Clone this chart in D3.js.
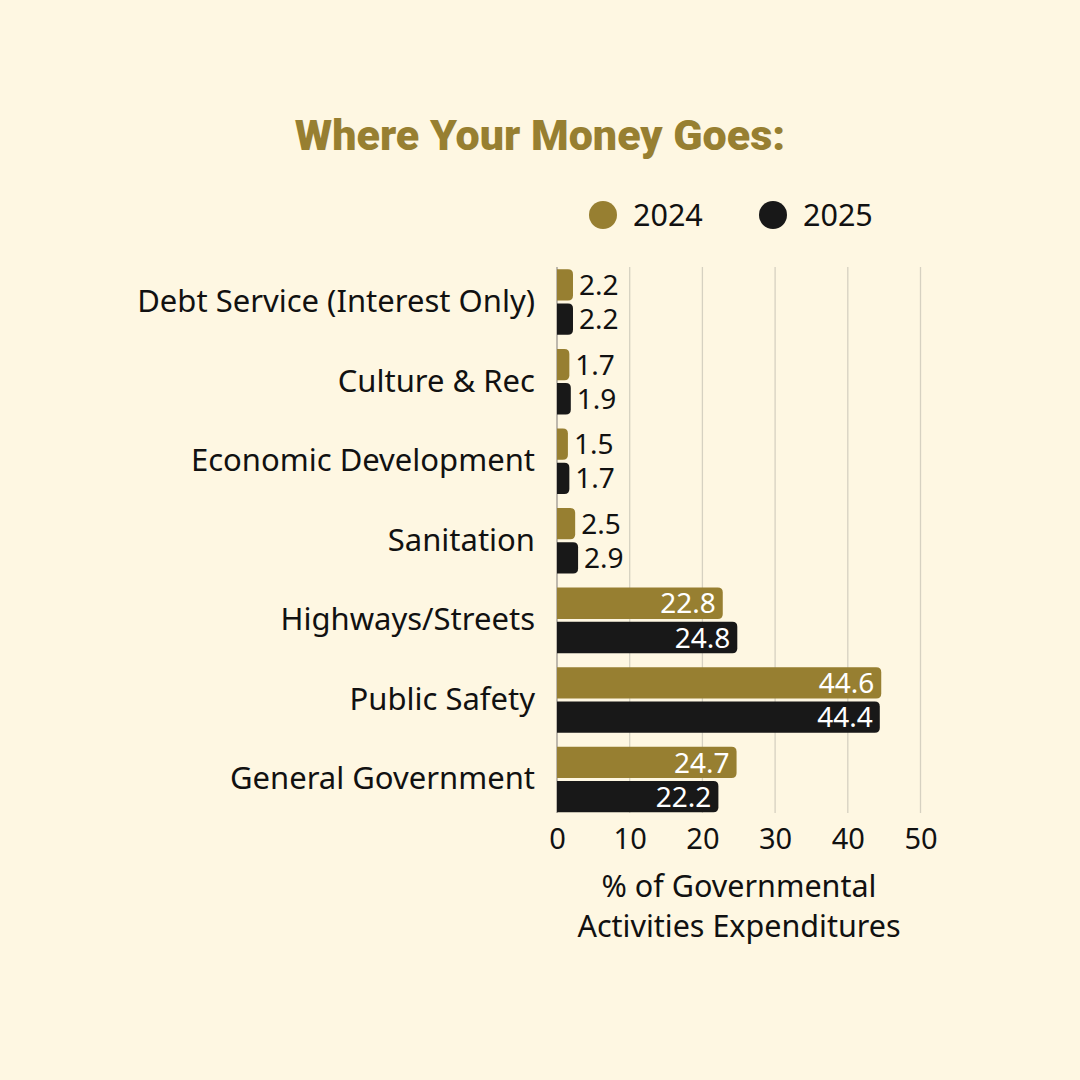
<!DOCTYPE html>
<html>
<head>
<meta charset="utf-8">
<script src="https://cdn.jsdelivr.net/npm/d3@7"></script>
<style>
  html, body { margin: 0; padding: 0; background: #fef7e2; }
  svg { display: block; }
</style>
</head>
<body>
<div id="chart"></div>
<script>
// data
const categories = [
  'Debt Service (Interest Only)',
  'Culture & Rec',
  'Economic Development',
  'Sanitation',
  'Highways/Streets',
  'Public Safety',
  'General Government'
]
const years = ['2024', '2025']
const values2024 = [2.2, 1.7, 1.5, 2.5, 22.8, 44.6, 24.7]
const values2025 = [2.2, 1.9, 1.7, 2.9, 24.8, 44.4, 22.2]
const xTicks = [0, 10, 20, 30, 40, 50]

const width = 1080
const height = 1080
const gold = '#977f31'
const dark = '#181818'
const ink = '#111111'
const font = "'Noto Sans', sans-serif"

const svg = d3.select('#chart')
  .append('svg')
  .attr('width', width)
  .attr('height', height)

svg.append('rect')
  .attr('width', width)
  .attr('height', height)
  .attr('fill', '#fef7e2')

// title
svg.append('text')
  .attr('x', 540)
  .attr('y', 150)
  .attr('text-anchor', 'middle')
  .attr('font-family', "Roboto, sans-serif")
  .attr('font-weight', 900)
  .attr('font-size', 43)
  .attr('fill', gold)
  .text('Where Your Money Goes:')

// legend
const legendColor = d3.scaleOrdinal().domain(years).range([gold, dark])
const legendX = d3.scalePoint().domain(years).range([603, 773])
const legend = svg.selectAll('g.legend')
  .data(years)
  .enter().append('g')
  .attr('class', 'legend')
  .attr('transform', d => `translate(${legendX(d)},215)`)
legend.append('circle')
  .attr('r', 14)
  .attr('fill', d => legendColor(d))
legend.append('text')
  .attr('x', 30)
  .attr('y', 11)
  .attr('font-family', font)
  .attr('font-size', 30.5)
  .attr('fill', ink)
  .text(d => d)

// scales
const x = d3.scaleLinear().domain([0, 50]).range([557, 920.5])
const y = d3.scaleBand().domain(categories).range([269.3, 812.3]).paddingInner(0.1765).paddingOuter(0)
const ySub = d3.scaleBand().domain(years).range([0, y.bandwidth()]).paddingInner(0.085)

// grid
svg.append('g')
  .selectAll('line')
  .data(xTicks)
  .enter().append('line')
  .attr('x1', d => x(d))
  .attr('x2', d => x(d))
  .attr('y1', 267)
  .attr('y2', 813)
  .attr('stroke', d => d === 0 ? '#9b9790' : '#d6d1c1')
  .attr('stroke-width', 1.3)

// x axis labels
const xAxis = d3.axisBottom(x).tickValues(xTicks).tickSize(0).tickPadding(0)
const axisG = svg.append('g')
  .attr('transform', 'translate(0,828)')
  .call(xAxis)
axisG.select('.domain').remove()
axisG.selectAll('text')
  .attr('font-family', font)
  .attr('font-size', 29)
  .attr('fill', ink)
  .attr('dy', '0.71em')

// axis title
svg.append('text')
  .attr('text-anchor', 'middle')
  .attr('font-family', font)
  .attr('font-size', 30.5)
  .attr('fill', ink)
  .selectAll('tspan')
  .data(['% of Governmental', 'Activities Expenditures'])
  .enter().append('tspan')
  .attr('x', 739)
  .attr('y', (d, i) => 897 + i * 40)
  .text(d => d)

// category labels
const yAxis = d3.axisLeft(y).tickSize(0).tickPadding(22)
const yG = svg.append('g')
  .attr('transform', `translate(${x(0)},0)`)
  .call(yAxis)
yG.select('.domain').remove()
yG.selectAll('text')
  .attr('font-family', font)
  .attr('font-size', 31)
  .attr('fill', ink)

// bars, flat on the left, rounded on the right
function barPath(x0, x1, y0, h, r) {
  r = Math.min(r, (x1 - x0) / 2, h / 2)
  return `M${x0},${y0}H${x1 - r}Q${x1},${y0} ${x1},${y0 + r}V${y0 + h - r}Q${x1},${y0 + h} ${x1 - r},${y0 + h}H${x0}Z`
}

const rows = []
categories.forEach((c, i) => {
  rows.push({ cat: c, year: '2024', v: values2024[i] })
  rows.push({ cat: c, year: '2025', v: values2025[i] })
})

const bars = svg.append('g')
  .selectAll('g')
  .data(rows)
  .enter().append('g')
  .attr('transform', d => `translate(0,${y(d.cat) + ySub(d.year)})`)

bars.append('path')
  .attr('d', d => barPath(x(0), x(d.v), 0, ySub.bandwidth(), 5))
  .attr('fill', d => legendColor(d.year))

bars.append('text')
  .attr('x', d => d.v > 10 ? x(d.v) - 7 : x(d.v) + 6)
  .attr('y', ySub.bandwidth() / 2)
  .attr('dy', '0.36em')
  .attr('text-anchor', d => d.v > 10 ? 'end' : 'start')
  .attr('font-family', font)
  .attr('font-size', 28)
  .attr('fill', d => d.v > 10 ? '#ffffff' : ink)
  .text(d => d.v.toFixed(1))
</script>
</body>
</html>
